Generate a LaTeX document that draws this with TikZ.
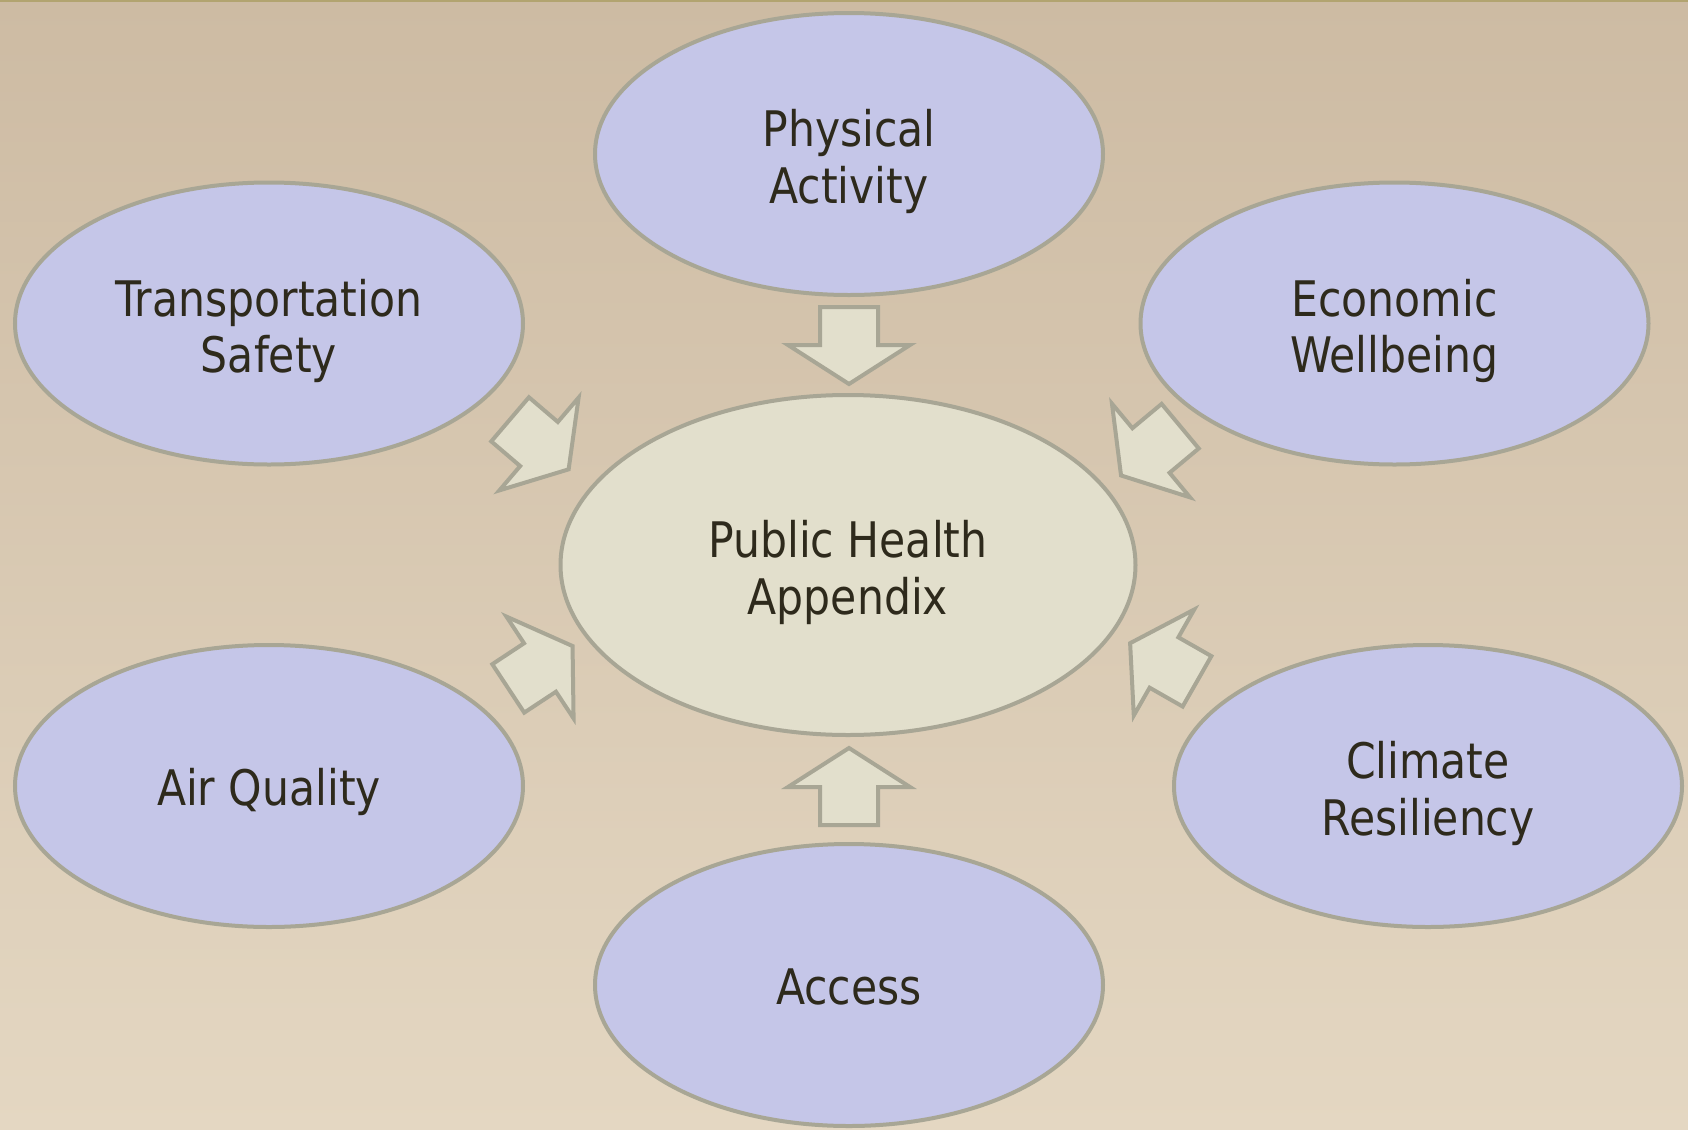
\documentclass[tikz,border=0pt]{standalone}
\usepackage{fontspec}
\setmainfont[FakeStretch=0.965]{DejaVu Sans Condensed}
\usetikzlibrary{shapes.geometric}
\definecolor{bgtop}{RGB}{205,187,163}
\definecolor{bgbot}{RGB}{228,215,194}
\definecolor{topline}{RGB}{178,164,112}
\definecolor{lav}{RGB}{197,198,232}
\definecolor{cream}{RGB}{226,223,204}
\definecolor{edge}{RGB}{168,166,149}
\definecolor{ink}{RGB}{46,42,28}
\tikzset{
  outerbubble/.style={ellipse, draw=edge, fill=lav, line width=2pt, inner sep=0pt,
    minimum width=254pt, minimum height=141pt, text=ink, align=center,
    font=\fontsize{24.5pt}{28.4pt}\selectfont},
  hubbubble/.style={outerbubble, fill=cream, minimum width=287.5pt, minimum height=170pt},
  blockarrow/.style={draw=edge, fill=cream, line width=2pt, line join=miter}
}
\newcommand{\twolines}[2]{\rule{0pt}{27pt}#1\\#2\rule[-6pt]{0pt}{6pt}}
\newcommand{\oneline}[1]{\rule[-6pt]{0pt}{31.4pt}#1}
\newcommand{\blockarrowpath}{(-38,-29) -- (0,-29) -- (0,-61) -- (39,0) -- (0,61) -- (0,29) -- (-38,29) -- cycle}
\begin{document}
\begin{tikzpicture}[x=0.5pt,y=-0.5pt]
\useasboundingbox (0,0) rectangle (1688,1130);
\shade[top color=bgtop, bottom color=bgbot] (0,0) rectangle (1688,1130);
\draw[topline, line width=1pt] (0,1) -- (1688,1);

\node[hubbubble] (hub) at (848,565) {\twolines{Public Health}{Appendix}};
\node[outerbubble] (pa) at (849,154) {\twolines{Physical}{Activity}};
\node[outerbubble] (ts) at (269,323.5) {\twolines{Transportation}{Safety}};
\node[outerbubble] (ew) at (1394.5,323.5) {\twolines{Economic}{Wellbeing}};
\node[outerbubble] (aq) at (269,786) {\oneline{Air Quality}};
\node[outerbubble] (cr) at (1428,786) {\twolines{Climate}{Resiliency}};
\node[outerbubble] (ac) at (849,985) {\oneline{Access}};

\draw[blockarrow, shift={(849,345)}, rotate=-90] \blockarrowpath;
\draw[blockarrow, shift={(849,787)}, rotate=90] \blockarrowpath;
\draw[blockarrow, shift={(539,444)}, rotate=-40.5] \blockarrowpath;
\draw[blockarrow, shift={(540,667.5)}, rotate=33.4] \blockarrowpath;
\draw[blockarrow, shift={(1151,450.5)}, rotate=-140.2] \blockarrowpath;
\draw[blockarrow, shift={(1164,662.5)}, rotate=150.3] \blockarrowpath;
\end{tikzpicture}
\end{document}
